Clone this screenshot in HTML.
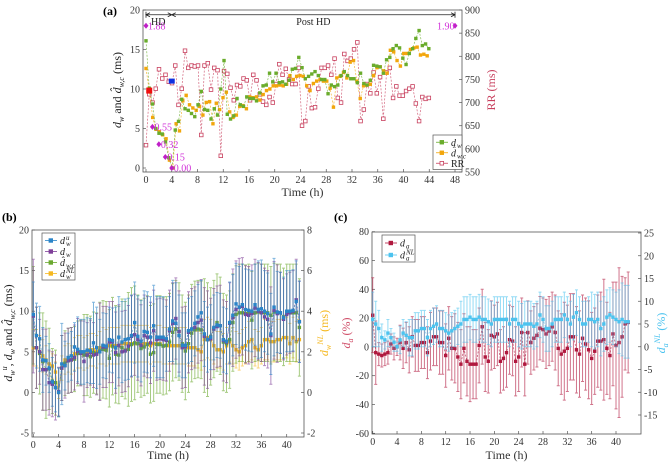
<!DOCTYPE html>
<html><head><meta charset="utf-8">
<style>
html,body{margin:0;padding:0;background:#fff;}
svg{display:block;font-family:"Liberation Serif",serif;}
</style></head>
<body>
<svg id="fig" width="671" height="462" viewBox="0 0 671 462" xmlns="http://www.w3.org/2000/svg">
<text x="103" y="15" font-size="12" font-weight="bold">(a)</text>
<text x="2" y="221" font-size="12" font-weight="bold">(b)</text>
<text x="334" y="221" font-size="12" font-weight="bold">(c)</text>
<g id="ga"></g>
<g id="gb"></g>
<g id="gc"></g>
</svg>
<script>
// ---------- Panel (a) data ----------
const aDw=[16.1,10.1,8.1,5.0,4.4,4.3,3.3,1.3,0.0,4.8,5.9,8.7,7.5,7.3,6.9,6.5,8.0,9.7,7.4,7.3,6.2,7.5,6.7,10.0,13.6,6.8,6.2,6.6,8.8,8.0,7.8,9.0,8.8,8.8,8.5,9.5,10.4,10.5,12.0,10.9,12.0,10.8,10.9,10.6,11.1,12.5,12.6,14.0,12.7,11.3,11.6,11.9,12.2,11.7,11.2,11.2,9.4,10.5,10.3,10.5,11.7,12.2,11.7,11.3,11.3,10.8,12.0,10.7,10.5,11.1,13.0,12.9,12.8,12.0,13.7,14.0,15.1,15.5,15.2,13.9,13.1,14.5,15.1,16.4,17.4,15.5,15.7,15.1];
const aDwc=[12.6,9.7,6.4,4.9,4.6,4.2,3.7,1.0,0.0,5.6,4.7,8.5,9.2,8.0,7.6,7.3,7.8,6.7,8.3,8.4,5.6,8.2,7.4,8.9,9.6,7.1,6.4,6.7,7.8,7.9,7.5,9.0,8.9,9.0,8.6,9.3,9.8,10.0,10.4,10.4,10.5,10.4,10.6,11.7,11.2,11.6,11.7,11.6,10.4,9.8,10.7,11.0,11.2,11.0,11.0,10.1,7.7,11.4,11.6,12.1,11.4,13.4,13.6,11.0,8.8,10.4,10.5,10.6,11.7,12.7,12.8,12.3,12.0,14.9,14.7,13.6,12.9,14.5,14.5,15.0,15.2,15.3,14.3,14.4,14.2];
const aRR=[608,718,700,730,772,752,760,745,742,780,695,730,812,775,780,778,780,630,780,785,728,775,770,585,768,762,732,705,738,735,752,748,705,760,748,718,702,695,712,700,740,783,760,773,750,740,740,775,650,660,735,688,690,730,775,775,780,760,795,710,700,805,790,795,815,830,660,685,740,720,765,720,755,665,765,775,710,735,715,715,725,730,735,698,660,712,708,710];
const aMarkT=[0,1,2,3,4,48];
const aMarkV=[18,5.2,3,1.4,0,18];
const aMarkL=["1.88","0.55","0.32","0.15","0.00","1.90"];
const aXTicks=[0,4,8,12,16,20,24,28,32,36,40,44,48];
const aYTicks=[0,5,10,15,20];
const aRTicks=[550,600,650,700,750,800,850,900];
// ---------- Panel (b) data ----------
const bDu=[9.6,7.0,6.6,4.0,3.9,3.0,1.3,0.6,0.0,3.5,3.3,4.3,4.5,5.6,5.3,5.0,5.0,5.2,5.1,6.1,5.5,5.0,5.8,5.7,6.5,6.4,5.5,6.8,6.2,6.5,6.6,7.0,8.6,6.9,6.3,7.5,7.4,6.8,8.2,6.8,6.8,6.8,6.6,7.8,8.8,8.5,7.0,5.8,5.8,7.6,7.8,8.5,9.3,9.8,7.2,6.5,6.8,8.0,8.3,8.2,6.5,6.3,8.6,9.5,10.9,10.5,10.8,10.2,10.1,10.0,10.8,10.2,10.3,10.0,9.7,7.2,10.5,9.9,9.8,9.2,10.0,10.0,10.1,11.2,8.7];
const bDw=[9.4,5.5,5.0,2.8,2.8,1.2,1.0,0.6,0.1,3.0,3.3,3.9,4.0,4.3,5.1,4.8,3.8,4.6,4.9,4.6,4.7,5.0,5.6,5.6,6.2,6.2,4.9,5.8,5.0,5.1,5.7,6.9,7.1,6.5,5.8,7.0,6.8,6.1,7.6,6.5,6.6,6.5,6.4,7.6,8.5,9.1,7.5,5.5,5.6,7.4,7.8,8.0,8.6,8.9,6.9,6.5,6.6,7.8,8.1,8.2,6.4,6.2,8.5,9.2,10.2,10.5,10.6,9.6,9.5,9.7,10.4,10.0,9.8,9.3,9.0,7.0,10.1,9.7,9.8,9.0,9.6,9.8,10.0,11.4,8.7];
const bDwc=[9.5,5.5,4.8,3.8,2.8,2.9,1.4,1.2,0.0,3.0,3.6,3.9,4.0,4.1,4.8,4.9,4.6,4.6,4.4,4.9,4.8,5.1,5.3,5.2,4.2,5.7,4.7,4.6,5.5,5.2,5.3,5.9,6.1,6.0,5.4,5.6,5.9,4.7,4.9,5.9,5.9,5.7,5.8,6.2,7.4,7.8,7.5,6.0,5.1,6.0,7.3,7.7,7.8,7.7,7.0,6.5,6.9,7.8,8.6,8.2,6.2,6.0,6.5,8.6,9.6,9.8,9.8,9.7,9.8,8.9,9.8,9.9,9.8,9.8,9.8,9.5,9.9,9.8,9.8,9.3,9.8,9.8,9.8,9.8,8.0];
const bNL=[2.2,2.2,2.0,1.8,1.6,1.4,1.3,1.0,0.0,1.2,1.6,1.7,1.6,1.9,2.0,2.0,1.9,2.0,2.1,2.1,2.0,2.2,2.3,2.2,2.3,2.3,2.3,2.3,2.4,2.4,2.4,2.4,2.4,2.4,2.4,2.4,2.4,2.3,2.4,2.4,2.4,2.3,2.3,2.3,2.3,2.3,2.3,2.3,2.3,2.2,2.2,2.2,2.1,2.0,2.6,2.7,2.6,2.3,2.1,2.1,2.0,2.3,2.5,2.3,2.1,2.0,2.2,2.3,2.5,2.6,2.2,2.1,2.3,2.6,2.6,2.5,2.5,2.6,2.6,2.7,2.7,2.4,2.7,2.5,2.6];
const bErrU=[4,4,4,4,3,3,3,3,3,5,3,3,3,3,4,4,4,4,4,5,5,4,4,4,4,4,5,5,5,5,5,5,5,5,5,5,5,5,5,5,5,5,4,4,5,5,5,4,4,4,4,4,4,4,4,4,4,4,4,4,4,4,5,5,5,5,5,5,5,5,5,6,6,5,5,5,6,5,5,5,5,5,5,5,5];
const bErrW=[7,5,4,5,5,4,4,4,3,4,4,4,4,4,4,4,5,4,4,4,5,6,5,5,5,5,5,5,5,5,5,5,5,5,5,5,5,5,5,5,5,5,5,5,5,5,5,5,5,5,5,5,5,5,6,6,5,5,5,5,5,5,5,6,6,6,6,6,6,6,6,6,6,6,6,6,6,6,5,5,5,5,5,5,5];
const bErrC=[6,5,5,6,6,5,4,4,3,4,4,4,4,4,4,4,5,5,5,5,5,6,6,6,6,6,6,6,6,6,7,7,7,6,6,6,6,6,6,6,6,6,6,6,6,6,6,6,6,6,6,6,6,6,7,7,6,6,6,6,6,6,6,6,6,6,6,6,6,6,6,6,6,6,6,6,6,6,6,6,6,6,6,6,6];
const bErrNL=[0.9,0.9,0.8,0.8,0.7,0.6,0.6,0.5,0.3,0.6,0.7,0.7,0.7,0.8,0.8,0.8,0.8,0.8,0.8,0.8,0.8,0.8,0.9,0.9,0.9,0.9,0.9,0.9,0.9,0.9,0.9,0.9,0.9,0.9,0.9,0.9,0.9,0.9,0.9,0.9,0.9,0.9,0.9,0.9,0.9,0.9,0.9,0.9,0.9,0.9,0.9,0.9,0.9,0.9,1.0,1.0,1.0,0.9,0.9,0.9,0.9,0.9,1.0,0.9,0.9,0.9,0.9,0.9,1.0,1.0,0.9,0.9,0.9,1.0,1.0,1.0,1.0,1.0,1.0,1.0,1.0,1.0,1.0,1.0,1.0];
const bXTicks=[0,4,8,12,16,20,24,28,32,36,40];
const bYTicks=[-5,0,5,10,15,20];
const bRTicks=[-2,0,2,4,6,8];
// ---------- Panel (c) data ----------
const cDa=[22,-4,-5,-6,-5,-4,2,-1,0,3,-1,3,-2,7,1,1,3,3,-4,4,7,7,3,3,-6,6,-1,-1,-7,-12,-1,-10,-12,-12,-12,1,14,-7,-10,8,7,9,-10,-8,-4,5,4,-10,-7,10,-12,10,3,6,8,13,12,9,11,14,10,-1,-5,-3,-1,7,7,-2,-5,6,2,-2,-8,-3,4,4,5,-1,-6,9,1,3,7,16,17];
const cNL=[6,5,4,2,1.5,3,2,1,0,1.5,3,2.5,2,2,3.5,3.5,4,4,2,4,4.5,5,4,4,3.5,3,3.5,4,4.5,5,6,6,6.5,6,6,6.5,6,6,5.5,5,6,6,6,6,6,5,6,6,5,4.5,5,5,5,4.5,5,7,6,4,4,5,6,6,6,7,6,5,6.5,7.5,6,5,5,6,6,5.5,6,4,5,6.5,7,6.5,6,5.5,6,5.5,5.5];
const cErrDa=[26,22,8,8,8,8,7,8,6,12,14,14,16,14,18,18,18,18,18,20,20,20,22,22,22,22,22,24,24,24,24,24,26,24,24,26,26,24,22,24,22,22,22,22,24,24,24,24,24,24,22,22,22,22,22,22,22,24,24,24,26,26,28,34,30,30,30,30,30,30,32,34,32,30,32,34,42,32,30,36,44,52,42,32,35];
const cErrNL=[6,5,4,3,2,3,2,2,1,3,3,3,4,4,4,4,4,4,4,4,4,4,4,4,4,4,4,4,4,5,5,5,5,5,5,5,5,5,5,5,5,5,5,5,5,5,5,5,5,5,5,5,5,5,5,5,5,5,5,5,5,5,5,5,5,5,5,5,5,5,5,5,6,6,6,6,6,6,6,6,6,7,8,8,8];
const cXTicks=[0,4,8,12,16,20,24,28,32,36,40];
const cYTicks=[-60,-40,-20,0,20,40,60,80];
const cRTicks=[-15,-10,-5,0,5,10,15,20,25];

const NS="http://www.w3.org/2000/svg";
function mk(parent,tag,attrs,text){const e=document.createElementNS(NS,tag);for(const k in attrs)e.setAttribute(k,attrs[k]);if(text!==undefined)e.textContent=text;parent.appendChild(e);return e;}
function lin(d0,d1,r0,r1){return v=>r0+(v-d0)*(r1-r0)/(d1-d0);}

function frame(g,box,xs,xTicks,ys,yTicks,ys2,rTicks){
  const f=mk(g,'rect',{x:box.l,y:box.t,width:box.r-box.l,height:box.b-box.t,fill:'none',stroke:'#555','stroke-width':0.8});
  
  
  xTicks.forEach(v=>{const x=xs(v);
    mk(g,'line',{x1:x,x2:x,y1:box.b,y2:box.b-3,stroke:'#555','stroke-width':0.7});
    const t=mk(g,'text',{x:x,y:box.b+11,'font-size':10,'text-anchor':'middle',fill:'#333'},v);
    
    });
  yTicks.forEach(v=>{const y=ys(v);
    mk(g,'line',{x1:box.l,x2:box.l+3,y1:y,y2:y,stroke:'#555','stroke-width':0.7});
    const t=mk(g,'text',{x:box.l-3,y:y+3.5,'font-size':10,'text-anchor':'end',fill:'#333'},v);
    
    });
  rTicks.forEach(v=>{const y=ys2(v);
    mk(g,'line',{x1:box.r,x2:box.r-3,y1:y,y2:y,stroke:'#555','stroke-width':0.7});
    const t=mk(g,'text',{x:box.r+3,y:y+3.5,'font-size':10,'text-anchor':'start',fill:'#333'},v);
    
    });
}
function series(g,ts,vals,xs,ys,color,opts){
  opts=opts||{};
  const pts=vals.map((v,i)=>[xs(ts[i]),ys(v)]);
  if(opts.err){
    vals.forEach((v,i)=>{const x=pts[i][0],e=opts.err[i];const y1=ys(v+e),y2=ys(v-e);
      const l=mk(g,'path',{d:`M${x},${y1}V${y2}M${x-1.5},${y1}H${x+1.5}M${x-1.5},${y2}H${x+1.5}`,stroke:color,'stroke-width':1,opacity:0.6,fill:'none'});
      
      });
  }
  const p=mk(g,'polyline',{points:pts.map(q=>q.join(',')).join(' '),fill:'none',stroke:color,'stroke-width':0.7,'stroke-dasharray':opts.dash||'2,1.5',opacity:0.8});
  
  
  pts.forEach(q=>{const s=opts.size||3.4;
    const m=mk(g,'rect',{x:q[0]-s/2,y:q[1]-s/2,width:s,height:s,fill:opts.hollow?'#fff':color,stroke:color,'stroke-width':opts.hollow?0.8:0});
    
    });
}
function rotLabel(g,x,y,html,color,name){
  const t=mk(g,'text',{x:0,y:0,transform:`translate(${x},${y}) rotate(-90)`,'font-size':12,'text-anchor':'middle',fill:color});
  t.innerHTML=html;
  
  
}
// legend entries: {c,h,base,sub,sup}
function legend(g,x,y,w,rowH,items){
  const b=mk(g,'rect',{x:x,y:y,width:w,height:items.length*rowH+3,fill:'#fff',stroke:'#555','stroke-width':0.7});
  
  
  items.forEach((it,i)=>{const yy=y+2+rowH/2+i*rowH;
    mk(g,'line',{x1:x+3,x2:x+15,y1:yy,y2:yy,stroke:it.c,'stroke-width':0.8});
    mk(g,'rect',{x:x+7,y:yy-1.8,width:3.6,height:3.6,fill:it.h?'#fff':it.c,stroke:it.c,'stroke-width':0.8});
    const t=mk(g,'text',{x:x+18,y:yy+3.5,'font-size':10,fill:'#222','font-style':it.plain?'normal':'italic'},it.base);
    
    
    if(it.sub) mk(g,'text',{x:x+24,y:yy+5.5,'font-size':7,fill:'#222','font-style':'italic'},it.sub);
    if(it.sup) mk(g,'text',{x:x+24,y:yy-0.5,'font-size':7,fill:'#222','font-style':'italic'},it.sup);
  });
}

// ---- Panel A ----
(function(){
  const g=document.getElementById('ga');
  const box={l:143,r:462,t:10,b:172};
  const xs=lin(0,48,146,455), ys=lin(0,20,168,10), yr=lin(550,900,172,10);
  frame(g,box,xs,aXTicks,ys,aYTicks,yr,aRTicks);
  const t1=aDw.map((_,i)=>i*0.505), t2=aDwc.map((_,i)=>i*0.52), t3=aRR.map((_,i)=>i*0.505);
  series(g,t3,aRR,xs,yr,'#c8405e',{name:'rr',hollow:true,size:3.6});
  series(g,t2,aDwc,xs,ys,'#f2a60c',{name:'dwc'});
  series(g,t1,aDw,xs,ys,'#6aac2c',{name:'dw'});
  mk(g,'rect',{x:xs(0.5)-3,y:ys(9.8)-3,width:6,height:6,fill:'#f01010'});
  mk(g,'rect',{x:xs(4)-3,y:ys(11)-2.5,width:6,height:5,fill:'#1030e0'});
  aMarkT.forEach((t,i)=>{const x=xs(t),y=ys(aMarkV[i]);
    const d=mk(g,'path',{d:`M${x},${y-3}L${x+2.5},${y}L${x},${y+3}L${x-2.5},${y}Z`,fill:'#c020c8'});
    
    
    mk(g,'text',{x:t===48?x-18:x+2,y:y+3.5,'font-size':10,fill:'#d030d8'},aMarkL[i]);});
  const ya=ys(19.4);
  mk(g,'path',{d:`M${xs(0)},${ya}H${xs(4)}M${xs(4)},${ya}H${xs(48)}M${xs(0)},${ya-3}V${ya+3}M${xs(48)},${ya-3}V${ya+3}M${xs(0)+4},${ya-2}L${xs(0)},${ya}L${xs(0)+4},${ya+2}M${xs(48)-4},${ya-2}L${xs(48)},${ya}L${xs(48)-4},${ya+2}M${xs(4)-4},${ya-2}L${xs(4)},${ya}L${xs(4)-4},${ya+2}M${xs(4)+4},${ya-2}L${xs(4)},${ya}L${xs(4)+4},${ya+2}`,stroke:'#222','stroke-width':0.8,fill:'none'});
  mk(g,'text',{x:xs(1.9),y:ys(18.1),'font-size':10,'text-anchor':'middle',fill:'#222'},'HD');
  mk(g,'text',{x:xs(26),y:ys(18.1),'font-size':10,'text-anchor':'middle',fill:'#222'},'Post HD');
  const xl=mk(g,'text',{x:(box.l+box.r)/2,y:196,'font-size':12,'text-anchor':'middle',fill:'#333'},'Time (h)');
  
  
  rotLabel(g,121,90,'<tspan font-style="italic">d</tspan><tspan font-style="italic" font-size="8" dy="3">w</tspan><tspan dy="-3"> and </tspan><tspan font-style="italic">d̂</tspan><tspan font-style="italic" font-size="8" dy="3">w,c</tspan><tspan dy="-3"> (ms)</tspan>','#222','y-axis-title');
  rotLabel(g,495,90,'RR (ms)','#c8405e','right-axis-title');
  legend(g,433,135,29,10.5,[{c:'#6aac2c',base:'d',sub:'w'},{c:'#f2a60c',base:'d̂',sub:'w,c'},{c:'#c8405e',h:true,plain:true,base:'RR'}]);
})();

// ---- Panel B ----
(function(){
  const g=document.getElementById('gb');
  const box={l:32,r:304,t:230,b:437};
  const xs=lin(0,40,33.3,286.7), ys=lin(-5,20,433,230), yr=lin(-2,8,433,230);
  frame(g,box,xs,bXTicks,ys,bYTicks,yr,bRTicks);
  const t=bDu.map((_,i)=>i*0.5);
  series(g,t,bNL,xs,yr,'#f5b820',{name:'dnl',err:bErrNL,dash:'none'});
  series(g,t,bDwc,xs,ys,'#6aa82f',{name:'dwc',err:bErrC});
  series(g,t,bDw,xs,ys,'#7e3f98',{name:'dw',err:bErrW});
  series(g,t,bDu,xs,ys,'#2a84c8',{name:'du',err:bErrU});
  const xl=mk(g,'text',{x:(box.l+box.r)/2,y:459,'font-size':12,'text-anchor':'middle',fill:'#333'},'Time (h)');
  
  
  rotLabel(g,12,333,'<tspan font-style="italic">d</tspan><tspan font-style="italic" font-size="8" dy="3">w</tspan><tspan font-style="italic" font-size="8" dy="-8">u</tspan><tspan dy="5">, </tspan><tspan font-style="italic">d</tspan><tspan font-style="italic" font-size="8" dy="3">w</tspan><tspan dy="-3"> and </tspan><tspan font-style="italic">d̂</tspan><tspan font-style="italic" font-size="8" dy="3">w,c</tspan><tspan dy="-3"> (ms)</tspan>','#222','y-axis-title');
  rotLabel(g,328,333,'<tspan font-style="italic">d</tspan><tspan font-style="italic" font-size="8" dy="3">w</tspan><tspan font-style="italic" font-size="8" dy="-8">NL</tspan><tspan dy="5"> (ms)</tspan>','#f5b820','right-axis-title');
  legend(g,42,233,33,11,[{c:'#2a84c8',base:'d',sub:'w',sup:'u'},{c:'#7e3f98',base:'d',sub:'w'},{c:'#6aa82f',base:'d̂',sub:'w,c'},{c:'#f5b820',base:'d',sub:'w',sup:'NL'}]);
})();

// ---- Panel C ----
(function(){
  const g=document.getElementById('gc');
  const box={l:372,r:641,t:232,b:434};
  const xs=lin(0,40,372.7,616), ys=lin(-60,80,433.3,231.7), yr=lin(-15,25,415,233);
  frame(g,box,xs,cXTicks,ys,cYTicks,yr,cRTicks);
  const t=cDa.map((_,i)=>i*0.5);
  series(g,t,cDa,xs,ys,'#b0183e',{name:'da',err:cErrDa});
  series(g,cNL.map((_,i)=>i*0.5),cNL,xs,yr,'#4cc3ef',{name:'danl',err:cErrNL});
  const xl=mk(g,'text',{x:(box.l+box.r)/2,y:459,'font-size':12,'text-anchor':'middle',fill:'#333'},'Time (h)');
  
  
  rotLabel(g,350,333,'<tspan font-style="italic">d</tspan><tspan font-style="italic" font-size="8" dy="3">a</tspan><tspan dy="-3"> (%)</tspan>','#d0506a','y-axis-title');
  rotLabel(g,665,333,'<tspan font-style="italic">d</tspan><tspan font-style="italic" font-size="8" dy="3">a</tspan><tspan font-style="italic" font-size="8" dy="-8">NL</tspan><tspan dy="5"> (%)</tspan>','#4cc3ef','right-axis-title');
  legend(g,382,235,33,12,[{c:'#b0183e',base:'d',sub:'a'},{c:'#4cc3ef',base:'d',sub:'a',sup:'NL'}]);
})();
</script>
</body></html>
